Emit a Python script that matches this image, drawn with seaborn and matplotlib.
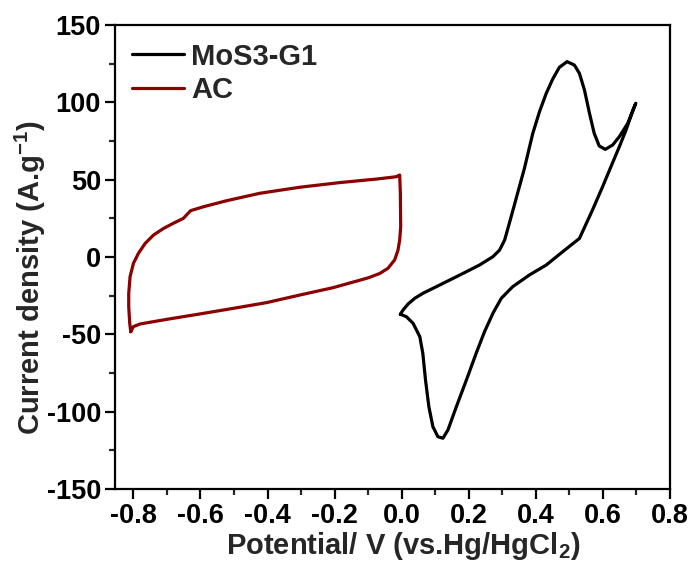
import matplotlib
matplotlib.use("Agg")
import matplotlib.pyplot as plt
import seaborn as sns
import pandas as pd
from matplotlib.ticker import MultipleLocator

# MoS3-G1 cyclic voltammogram (V, A/g)
mos3_potential = [-0.004, 0.004, 0.019, 0.039, 0.063, 0.093, 0.133, 0.183, 0.232, 0.272, 0.292,
                  0.307, 0.321, 0.336, 0.351, 0.366, 0.381, 0.391, 0.411, 0.431, 0.450, 0.470,
                  0.493, 0.515, 0.530, 0.545, 0.560, 0.574, 0.589, 0.607, 0.629, 0.649, 0.674,
                  0.698,
                  0.688, 0.669, 0.649, 0.624, 0.599, 0.569, 0.530, 0.480, 0.431, 0.381, 0.331,
                  0.297, 0.272, 0.247, 0.222, 0.193, 0.163, 0.138, 0.123, 0.108, 0.093, 0.081,
                  0.071, 0.063, 0.054, 0.034, 0.014, -0.004]
mos3_current = [-37, -34.3, -30.4, -26.7, -23.5, -20.3, -16.0, -10.6, -5.2, 0.2, 4.5,
                11, 21.8, 33.6, 45.5, 57.3, 71, 80, 94, 105.8, 114.9, 122.6,
                126.3, 124.1, 118.7, 108, 92.9, 80, 71.8, 69.6, 72.4, 77.8, 86.4,
                99.4,
                93.9, 82.1, 71.3, 58.4, 45.4, 30.4, 12, 3.4, -5.2, -11.6, -19.2,
                -26.7, -36.4, -48.3, -62.3, -79.5, -96.8, -111.8, -117.2, -116.2, -109.7, -96.8,
                -79.5, -62.3, -51.5, -42.9, -38.6, -37]

# AC cyclic voltammogram (V, A/g)
ac_potential = [-0.808, -0.811, -0.814, -0.814, -0.810, -0.800, -0.785, -0.765, -0.740, -0.710,
                -0.681, -0.651, -0.639, -0.629, -0.591, -0.522, -0.423, -0.304, -0.185, -0.075,
                -0.016, -0.006, -0.004, -0.003, -0.006, -0.011, -0.021, -0.041, -0.065, -0.095,
                -0.105, -0.204, -0.304, -0.403, -0.502, -0.601, -0.700, -0.780, -0.800, -0.808]
ac_current = [-48.3, -42.9, -32.1, -23.5, -12.7, -4.1, 2.4, 8.8, 14.2, 18.5,
              21.8, 25, 27.8, 30, 32.5, 36.4, 41.2, 45.1, 48.1, 50.4,
              51.9, 53, 41.2, 19.6, 11, 4.5, -1.9, -7.3, -10.6, -13.1,
              -13.8, -19.8, -24.6, -29.5, -33.2, -36.8, -40.3, -43.3, -45, -48.3]

series_names = ["MoS3-G1", "AC"]
series_colors = ["#000000", "#8b0000"]
series_x = [mos3_potential, ac_potential]
series_y = [mos3_current, ac_current]

sns.set_style("ticks")
plt.rcParams["font.family"] = ["Liberation Sans", "DejaVu Sans"]
plt.rcParams["font.weight"] = "bold"
plt.rcParams["mathtext.fontset"] = "custom"
plt.rcParams["mathtext.rm"] = "Liberation Sans:bold"
plt.rcParams["mathtext.bf"] = "Liberation Sans:bold"
plt.rcParams["mathtext.it"] = "Liberation Sans:bold"
plt.rcParams["mathtext.default"] = "bf"

fig = plt.figure(figsize=(6.96, 5.75), dpi=100)
ax = fig.add_axes([0.1652, 0.1496, 0.7974, 0.8069])

for name, color, xs, ys in zip(series_names, series_colors, series_x, series_y):
    df = pd.DataFrame({"Potential": xs, "Current": ys})
    sns.lineplot(data=df, x="Potential", y="Current", sort=False, estimator=None,
                 color=color, linewidth=2.3, ax=ax, label=name)

ax.set_xlim(-0.855, 0.8)
ax.set_ylim(-150, 150)
ax.set_xticks([-0.8, -0.6, -0.4, -0.2, 0.0, 0.2, 0.4, 0.6, 0.8])
ax.set_xticklabels(["-0.8", "-0.6", "-0.4", "-0.2", "0.0", "0.2", "0.4", "0.6", "0.8"])
ax.set_yticks([-150, -100, -50, 0, 50, 100, 150])
ax.set_yticklabels(["-150", "-100", "-50", "0", "50", "100", "150"])
ax.xaxis.set_minor_locator(MultipleLocator(0.1))
ax.yaxis.set_minor_locator(MultipleLocator(25))

for s in ax.spines.values():
    s.set_linewidth(1.6)
    s.set_color("black")
ax.tick_params(axis="both", which="major", direction="out", length=7, width=1.6,
               labelsize=19.5, colors="black", pad=3)
ax.tick_params(axis="both", which="minor", direction="out", length=4, width=1.6)
for lab in ax.get_xticklabels() + ax.get_yticklabels():
    lab.set_fontweight("bold")

ax.set_xlabel(r"Potential/ V (vs.Hg/HgCl$_2$)", fontsize=21, fontweight="bold", labelpad=1)
ax.set_ylabel(r"Current density (A.g$^{-1}$)", fontsize=21, fontweight="bold", labelpad=-1)
ax.xaxis.label.set_x(0.52)
ax.yaxis.label.set_y(0.455)

leg = ax.legend(loc="upper left", frameon=False, handlelength=1.76,
                handletextpad=0.25, labelspacing=0.2, borderaxespad=0.2, borderpad=0.4,
                prop={"weight": "bold", "size": 21})

fig.savefig("out.png", dpi=100)
